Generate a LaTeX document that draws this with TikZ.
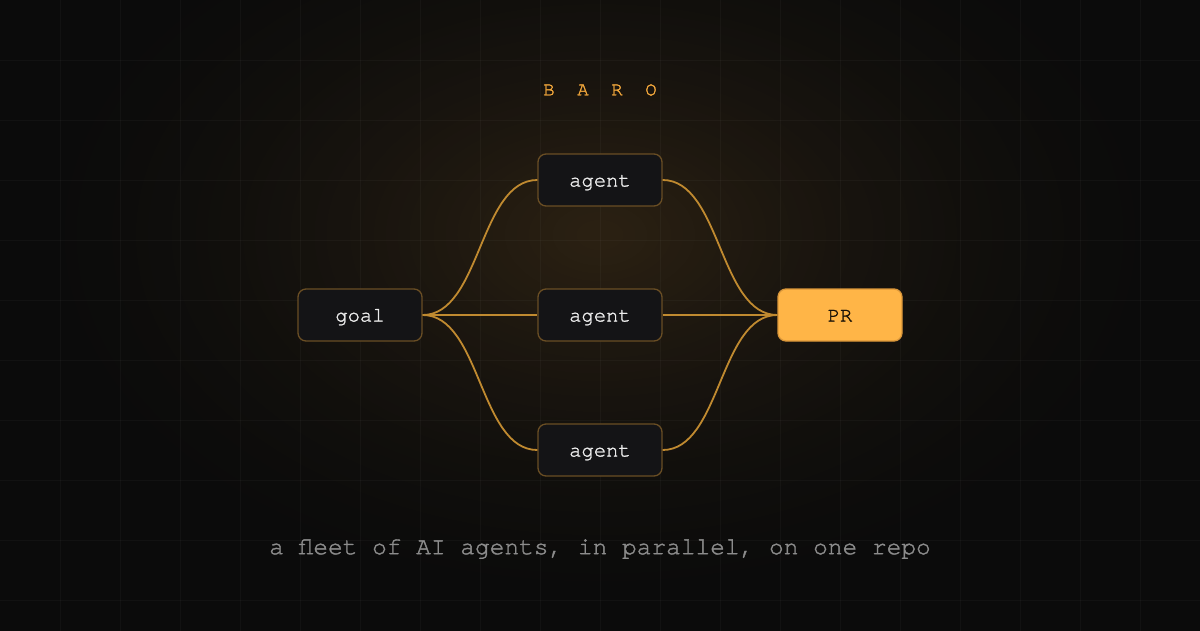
\documentclass[tikz,border=0pt]{standalone}
\usepackage{fontspec}
\setmonofont[FakeBold=1.5]{TeX Gyre Cursor}
\definecolor{bgc}{HTML}{0B0B0B}
\definecolor{glowc}{HTML}{2A2012}
\definecolor{gridc}{HTML}{FFFFFF}
\definecolor{nodefill}{HTML}{141416}
\definecolor{nodeborder}{HTML}{6A4E24}
\definecolor{linkc}{HTML}{C08A30}
\definecolor{prfill}{HTML}{FFB547}
\definecolor{prborder}{HTML}{D9963A}
\definecolor{titlec}{HTML}{F5A93C}
\definecolor{subc}{HTML}{8C8C8C}
\definecolor{textc}{HTML}{EDEDED}
\tikzset{
  box/.style={draw=nodeborder, line width=1.3pt, fill=nodefill, rounded corners=8pt,
    minimum width=124pt, minimum height=52pt, inner sep=0pt,
    text height=15pt, text depth=2pt,
    font=\ttfamily\fontsize{20.5}{20.5}\selectfont, text=textc},
  prbox/.style={box, fill=prfill, draw=prborder, text=black!90!prfill},
  link/.style={draw=linkc, line width=1.8pt},
  gridline/.style={gridc, opacity=0.03, line width=1pt},
}
\begin{document}
\begin{tikzpicture}[x=1pt,y=-1pt]
\useasboundingbox (0,0) rectangle (1200,630);
\fill[bgc] (-5,-5) rectangle (1205,635);
\foreach \i in {0,...,48} {
  \pgfmathsetmacro{\r}{1-\i/50}
  \pgfmathsetmacro{\p}{100*(\i/48)^1.7}
  \fill[glowc!\p!bgc] (600,235) ellipse ({595*\r} and {385*\r});
}
\foreach \x in {60,120,...,1140} \draw[gridline] (\x,-5) -- (\x,635);
\foreach \y in {60,120,...,600} \draw[gridline] (-5,\y) -- (1205,\y);

\node[text=titlec, font=\ttfamily\fontsize{19}{19}\selectfont] (title) at (600,90)
  {B\kern22.6pt A\kern22.6pt R\kern22.6pt O};

\node[box] (goal) at (360,315) {goal};
\node[box] (a1) at (600,180) {agent};
\node[box] (a2) at (600,315) {agent};
\node[box] (a3) at (600,450) {agent};
\node[prbox] (pr) at (840,315) {PR};

\draw[link] (goal.east) .. controls +(58,0) and +(-58,0) .. (a1.west);
\draw[link] (goal.east) -- (a2.west);
\draw[link] (goal.east) .. controls +(58,0) and +(-58,0) .. (a3.west);
\draw[link] (a1.east) .. controls +(58,0) and +(-58,0) .. (pr.west);
\draw[link] (a2.east) -- (pr.west);
\draw[link] (a3.east) .. controls +(58,0) and +(-58,0) .. (pr.west);

\node[text=subc, font=\ttfamily\fontsize{24.5}{24.5}\selectfont] (sub) at (600,549)
  {a fleet of AI agents, in parallel, on one repo};
\end{tikzpicture}
\end{document}
